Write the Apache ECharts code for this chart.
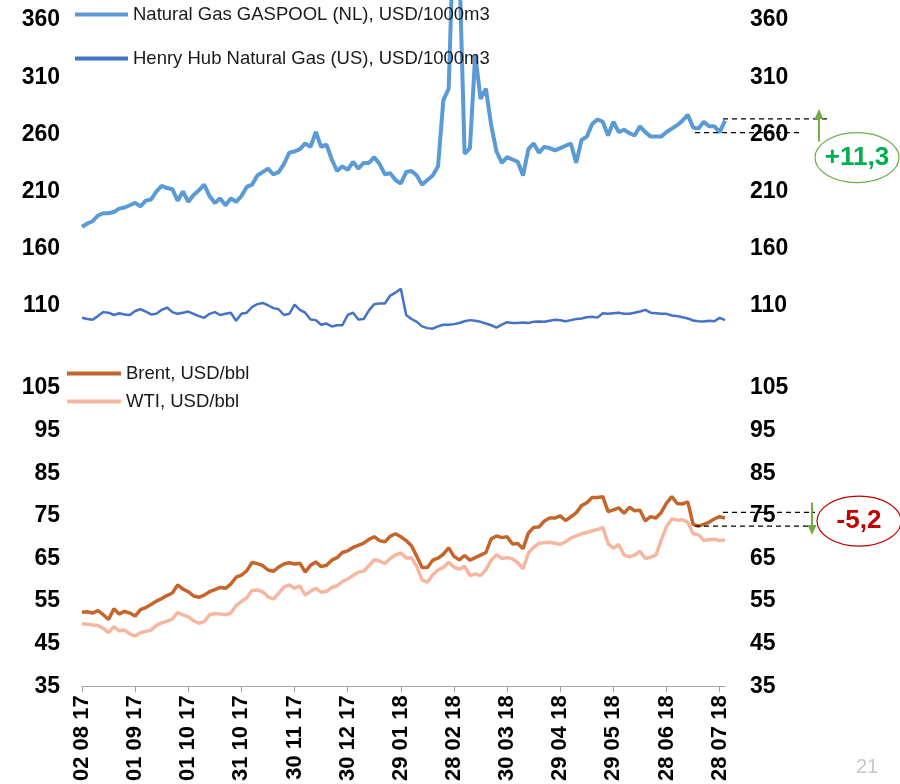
<!DOCTYPE html>
<html>
<head>
<meta charset="utf-8">
<script src="https://cdn.jsdelivr.net/npm/echarts@6/dist/echarts.min.js"></script>
<style>
  html, body { margin: 0; background: #fff; }
  #chart { width: 900px; height: 784px; }
</style>
</head>
<body>
<div id="chart"></div>
<script>
// one value every 3 calendar days, starting 02.08.2017
const START = Date.UTC(2017, 7, 2);
const STEP = 3;
const LAST_DAY = 363;
const tickDays = [0, 30, 60, 90, 120, 150, 180, 210, 240, 270, 300, 330, 360];

const gasNames = ['Natural Gas GASPOOL (NL), USD/1000m3', 'Henry Hub Natural Gas (US), USD/1000m3'];
const oilNames = ['Brent, USD/bbl', 'WTI, USD/bbl'];

const gaspool = [
  179, 182, 184, 189, 191, 191, 192, 195, 196, 198,
  200, 197, 202, 203, 210, 215, 213, 212, 202, 210,
  201, 207, 211, 216, 206, 200, 204, 198, 204, 201,
  206, 214, 216, 224, 227, 230, 225, 227, 234, 244,
  245, 247, 252, 249, 262, 249, 251, 238, 228, 232,
  229, 236, 230, 235, 235, 240, 234, 225, 226, 220,
  217, 227, 228, 224, 216, 220, 224, 232, 290, 300,
  450, 410, 243, 248, 330, 291, 300, 268, 245, 235,
  240, 238, 236, 224, 247, 252, 244, 249, 248, 246,
  248, 250, 252, 235, 255, 258, 269, 273, 271, 259,
  271, 262, 264, 261, 259, 267, 262, 258, 258, 258,
  262, 265, 268, 272, 277, 266, 265, 271, 267, 267,
  262, 272
];
const henryHub = [
  99.5, 98.5, 97.8, 101, 104.5, 104, 102, 103.5, 102.5, 102,
  105.5, 107, 105, 102.5, 103, 106.5, 108.5, 104.5, 103, 104,
  105, 103, 101, 99.5, 103, 104.5, 102, 103, 104, 97,
  103, 104, 109, 111.5, 112.5, 110.5, 108, 107, 102, 103,
  111, 106.5, 104, 98, 97.5, 93.5, 94.5, 92, 93, 93,
  102, 104, 98, 98.5, 106, 111.5, 112, 112, 119, 121.5,
  125, 102, 98.5, 96, 92, 90.5, 90, 92, 93.5, 93.4,
  94, 95, 96.5, 97.5, 97, 96, 94.5, 93, 91, 93.5,
  95.7, 95, 95, 95.5, 95, 96, 96.3, 96, 97, 97.8,
  97.3, 96.5, 97.5, 98.4, 99, 100, 100.5, 99.7, 103.5, 103,
  103.5, 104, 103, 103, 104, 105, 106.5, 104, 103.5, 103,
  103, 101.5, 101, 100, 99, 97.2, 96.5, 96.3, 97, 96.5,
  99.5, 97.5
];
const brent = [
  52.4, 52.5, 52.2, 52.8, 51.8, 50.7, 53.2, 52, 52.6, 52.2,
  51.5, 53, 53.5, 54.2, 55, 55.6, 56.3, 56.9, 58.8, 57.8,
  57.2, 56.2, 55.9, 56.4, 57.2, 57.7, 58.2, 58, 59, 60.6,
  61.1, 62.1, 64.1, 63.8, 63.3, 62.3, 62, 63, 63.7, 64,
  63.7, 63.9, 61.8, 63.4, 64.2, 63.1, 63.4, 64.6, 65.2, 66.4,
  66.8, 67.6, 68.1, 68.6, 69.5, 70.1, 69.2, 68.9, 70.2, 70.8,
  70.1, 69.2, 68, 65.5, 62.9, 62.9, 64.6, 65.1, 66, 67.5,
  65.5, 64.7, 65.7, 64.6, 65.2, 65.8, 66.4, 69.6, 70.3, 69.9,
  70.1, 68.4, 68.5, 67.3, 71, 72.3, 72.4, 73.8, 74.5, 74.5,
  75, 73.9, 74.8, 75.7, 77.4, 78.1, 79.3, 79.3, 79.5, 76,
  76.4, 76.9, 75.6, 77, 76.2, 76.3, 73.8, 74.8, 74.5, 75.8,
  78, 79.5, 77.9, 77.8, 78.3, 73, 72.6, 73, 73.5, 74.3,
  74.8, 74.5
];
const wti = [
  49.7, 49.6, 49.4, 49.3, 48.6, 47.6, 49, 48, 48.2, 47.3,
  46.8, 47.6, 47.9, 48.2, 49.3, 49.9, 50.3, 50.8, 52.3, 51.8,
  51.3, 50.4, 49.8, 50.2, 51.8, 52.1, 52, 51.8, 52.2, 54,
  54.9, 55.8, 57.5, 57.6, 57.2, 56, 55.5, 56.8, 58.3, 58.8,
  58, 58.6, 56.4, 57.3, 58, 57.1, 57.3, 58.2, 58.6, 59.6,
  60.2, 61, 61.8, 62, 63.3, 64.7, 64.4, 63.8, 65, 65.8,
  66.3, 65.1, 65.2, 63.1, 60, 59.4, 61.2, 62.3, 62.9, 64.1,
  63, 62.5, 63.2, 61, 61.4, 61, 62.4, 64.6, 65.9, 65,
  65.2, 64.9, 64, 62.6, 66.3, 67.6, 68.6, 68.7, 68.8, 68.6,
  68.3, 68.9, 69.8, 70.3, 70.8, 71.1, 71.5, 71.8, 72.3, 68.5,
  67.4, 68.3, 65.8, 65.4, 65.8, 66.7, 65, 65.3, 65.8, 69.3,
  72.5, 74.3, 74, 74.1, 73.5, 70.8, 70.6, 69.3, 69.4, 69.5,
  69.2, 69.3
];

// month-on-month change markers: [previous, current]
const gasLevels = [261.5, 273.5];
const gasChange = '+11,3';
const oilLevels = [75.8, 72.6];
const oilChange = '-5,2';

const FONT = 'Liberation Sans';

function pad(n) { return (n < 10 ? '0' : '') + n; }
function dayLabel(d) {
  const t = new Date(START + d * 86400000);
  return pad(t.getUTCDate()) + ' ' + pad(t.getUTCMonth() + 1) + ' ' + pad(t.getUTCFullYear() % 100);
}
function toPoints(arr) { return arr.map((v, i) => [i * STEP, v]); }

function yAxisDef(grid, min, max, interval, right) {
  return {
    type: 'value', gridIndex: grid, min: min, max: max, interval: interval,
    position: right ? 'right' : 'left',
    axisLine: { show: false }, axisTick: { show: false }, splitLine: { show: false },
    axisLabel: {
      margin: right ? 25 : 22,
      fontFamily: FONT, fontWeight: 'bold', fontSize: 23, color: '#000',
      formatter: v => (grid === 0 && v === 60) ? '' : String(v)
    }
  };
}

function lineSeries(name, data, xi, yi, color, width) {
  return {
    name: name, type: 'line', xAxisIndex: xi, yAxisIndex: yi,
    data: toPoints(data), symbol: 'none', clip: false,
    lineStyle: { color: color, width: width }, itemStyle: { color: color }
  };
}

const chart = echarts.init(document.getElementById('chart'));

chart.setOption({
  animation: false,
  backgroundColor: '#fff',
  grid: [
    { left: 82, right: 175, top: 20, bottom: 421 },
    { left: 82, right: 175, top: 388, bottom: 96 }
  ],
  legend: [
    {
      data: gasNames, orient: 'vertical', left: 75, top: 5, itemGap: 25, padding: 0,
      icon: 'rect', itemWidth: 53, itemHeight: 4,
      textStyle: { fontFamily: FONT, fontSize: 18.5, color: '#1a1a1a' }
    },
    {
      data: oilNames, orient: 'vertical', left: 67, top: 364, itemGap: 9, padding: 0,
      icon: 'rect', itemWidth: 54, itemHeight: 4,
      textStyle: { fontFamily: FONT, fontSize: 18.5, color: '#1a1a1a' }
    }
  ],
  xAxis: [
    { type: 'value', gridIndex: 0, min: 0, max: LAST_DAY, show: false, splitLine: { show: false } },
    {
      type: 'value', gridIndex: 1, min: 0, max: LAST_DAY,
      splitLine: { show: false },
      axisLine: { lineStyle: { color: '#a6a6a6', width: 1 } },
      axisTick: { show: true, length: 6, customValues: tickDays, lineStyle: { color: '#a6a6a6' } },
      axisLabel: {
        customValues: tickDays, rotate: 90, margin: 9,
        fontFamily: FONT, fontWeight: 'bold', fontSize: 22, color: '#000',
        formatter: v => dayLabel(v)
      }
    }
  ],
  yAxis: [
    yAxisDef(0, 60, 360, 50, false),
    yAxisDef(0, 60, 360, 50, true),
    yAxisDef(1, 35, 105, 10, false),
    yAxisDef(1, 35, 105, 10, true)
  ],
  series: [
    lineSeries(gasNames[0], gaspool, 0, 0, '#5B9BD5', 4),
    lineSeries(gasNames[1], henryHub, 0, 0, '#4472C4', 2.5),
    lineSeries(oilNames[1], wti, 1, 2, '#F5B7A1', 3.5),
    lineSeries(oilNames[0], brent, 1, 2, '#C6652B', 3.5)
  ]
});

// change annotations next to the right axis
const endX = chart.convertToPixel({ xAxisIndex: 0 }, LAST_DAY);
const yGas = v => chart.convertToPixel({ yAxisIndex: 0 }, v);
const yOil = v => chart.convertToPixel({ yAxisIndex: 2 }, v);
const dash = { stroke: '#000', lineWidth: 1.2, lineDash: [5, 4] };
const green = '#70AD47';

function hline(x1, x2, y) {
  return { type: 'line', shape: { x1: x1, y1: y, x2: x2, y2: y }, style: dash, z: 10 };
}
function arrow(x, yFrom, yTo) {
  const dir = yTo < yFrom ? 1 : -1;
  return [
    { type: 'line', shape: { x1: x, y1: yFrom, x2: x, y2: yTo + dir * 8 }, style: { stroke: green, lineWidth: 2 }, z: 10 },
    { type: 'polygon', shape: { points: [[x, yTo], [x - 4.5, yTo + dir * 10], [x + 4.5, yTo + dir * 10]] }, style: { fill: green }, z: 10 }
  ];
}
function badge(cx, cy, text, stroke, color) {
  return [
    { type: 'ellipse', shape: { cx: cx, cy: cy, rx: 42, ry: 25 }, style: { fill: '#fff', stroke: stroke, lineWidth: 1.2 }, z: 10 },
    { type: 'text', x: cx, y: cy, style: { text: text, fill: color, font: 'bold 26px ' + FONT, align: 'center', verticalAlign: 'middle' }, z: 11 }
  ];
}

const gPrev = yGas(gasLevels[0]), gNow = yGas(gasLevels[1]);
const oPrev = yOil(oilLevels[0]), oNow = yOil(oilLevels[1]);

chart.setOption({
  graphic: [].concat(
    hline(endX - 2, endX + 102, gNow),
    hline(endX - 30, endX + 76, gPrev),
    arrow(endX + 94, gPrev + 9, gNow - 10),
    badge(endX + 132, gPrev + 25, gasChange, green, '#00B050'),
    hline(endX - 2, endX + 90, oPrev),
    hline(endX - 30, endX + 90, oNow),
    arrow(endX + 87, oPrev - 10, oNow + 9),
    badge(endX + 134, oNow - 5, oilChange, '#C00000', '#C00000'),
    [{ type: 'text', x: 856, y: 757, style: { text: '21', fill: '#c8c8c8', font: '20px ' + FONT }, z: 10 }]
  )
});
</script>
</body>
</html>
